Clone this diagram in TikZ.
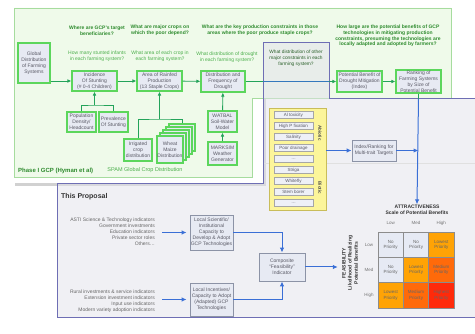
\documentclass[tikz,border=0pt]{standalone}
\usepackage{fontspec}
\setmainfont{Liberation Sans}
\usetikzlibrary{arrows.meta}
\definecolor{gpanel}{HTML}{EFFAEA}
\definecolor{gpanelb}{HTML}{A6DC9E}
\definecolor{gbord}{HTML}{5CD65C}
\definecolor{bfill}{HTML}{E7EAF3}
\definecolor{btext}{HTML}{5A5A66}
\definecolor{garrow}{HTML}{23A35A}
\definecolor{qdark}{HTML}{2E8B2E}
\definecolor{qlight}{HTML}{4CAF4C}
\definecolor{ppl}{HTML}{6E6EB4}
\definecolor{pfill}{HTML}{E2E2EA}
\definecolor{barrow}{HTML}{3A6FD6}
\definecolor{pbord}{HTML}{8C93A6}
\definecolor{yfill}{HTML}{FCF59A}
\definecolor{ybord}{HTML}{C9BD5A}
\definecolor{cnone}{HTML}{E6EAF4}
\definecolor{clow}{HTML}{FFA305}
\definecolor{cmed}{HTML}{FF6A0A}
\definecolor{chigh}{HTML}{FF2A0A}
\begin{document}
\begin{tikzpicture}[x=1pt,y=-1pt,
  gbox/.style={draw=gbord,line width=1.1pt,fill=bfill,text=btext,font=\fontsize{5}{6}\selectfont,align=center,inner sep=0pt},
  pbox/.style={draw=pbord,line width=0.8pt,fill=bfill,text=btext,font=\fontsize{5}{6}\selectfont,align=center,inner sep=0pt},
  yitem/.style={draw=black!35,line width=0.5pt,fill=bfill!70!white,text=btext,font=\fontsize{4.5}{5}\selectfont,minimum width=39pt,minimum height=7.5pt,inner sep=0pt},
  qhead/.style={font=\bfseries\fontsize{5}{5.8}\selectfont,text=qdark,align=center,inner sep=0pt},
  qsub/.style={font=\fontsize{5}{6.3}\selectfont,text=qlight,align=center,inner sep=0pt},
  gline/.style={draw=garrow,line width=0.9pt},
  garr/.style={draw=garrow,line width=0.9pt,-{Latex[length=4pt,width=3.6pt]}},
  bline/.style={draw=barrow,line width=1pt},
  barr/.style={draw=barrow,line width=1pt,-{Latex[length=5pt,width=4.5pt]}},
  cell/.style={draw=black!45,line width=0.6pt,minimum width=25.33pt,minimum height=25.33pt,inner sep=0pt,align=center,text=black!60,font=\fontsize{4.5}{5.2}\selectfont},
  ind/.style={font=\fontsize{5}{6}\selectfont,text=black!60,align=right,inner sep=0pt},
  lbl/.style={font=\fontsize{4.5}{5}\selectfont,text=black!55,inner sep=0pt},
  bold/.style={font=\bfseries\fontsize{5}{6.2}\selectfont,text=black!80,align=center,inner sep=0pt}
]
\useasboundingbox (0,0) rectangle (475,334);
% white frame behind phase I
\fill[black!18] (15,99) rectangle (266,186);
\fill[white] (12,96) rectangle (263,183);
% green panel
\fill[gpanel] (14,8) -- (451,8) -- (451,98) -- (252,98) -- (252,177) -- (14,177) -- cycle;
\draw[gpanelb,line width=0.7pt] (14,8) -- (451,8) -- (451,98) -- (252,98) -- (252,177) -- (14,177) -- cycle;
% proposal panel
\fill[pfill,fill opacity=0.5] (263,43) -- (329,43) -- (329,99) -- (480,99) -- (480,318) -- (57,318) -- (57,184) -- (263,184) -- cycle;
\draw[black!12,line width=0.5pt] (263,163) -- (480,163);
\draw[ppl,line width=1pt] (263,43) -- (329,43) -- (329,99) -- (480,99) -- (480,318) -- (57,318) -- (57,184) -- (263,184) -- cycle;

% ---------- Phase I ----------
\node[qhead] at (97,30.5) {Where are GCP’s target\\beneficiaries?};
\node[qhead] at (160,30.5) {What are major crops on\\which the poor depend?};
\node[qhead] at (260,30.5) {What are the key production constraints in those\\areas where the poor produce staple crops?};
\node[qhead] at (388,36) {How large are the potential benefits of GCP\\technologies in mitigating production\\constraints, presuming the technologies are\\locally adapted and adopted by farmers?};
\node[qsub] at (97,56.5) {How many stunted infants\\in each farming system?};
\node[qsub] at (160,56.5) {What area of each crop in\\each farming system?};
\node[qsub] at (227,57) {What distribution of drought\\in each farming system?};
\node[qsub,text=black!45!qlight,font=\fontsize{4.8}{6}\selectfont] at (296,58) {What distribution of other\\major constraints in each\\farming system?};

\node[gbox,minimum width=32pt,minimum height=40pt] (glob) at (34,63) {Global\\Distribution\\of Farming\\Systems};
\node[gbox,minimum width=45pt,minimum height=20pt] (inc) at (94.5,81) {Incidence\\Of Stunting\\(\# 0-4 Children)};
\node[gbox,minimum width=45pt,minimum height=20pt] (area) at (159.5,81) {Area of Rainfed\\Production\\(13 Staple Crops)};
\node[gbox,minimum width=44pt,minimum height=21pt] (drought) at (223,81.5) {Distribution and\\Frequency of\\Drought};
\node[gbox,minimum width=45pt,minimum height=21pt] (potben) at (359.5,81.5) {Potential Benefit of\\Drought Mitigation\\(Index)};
\node[gbox,minimum width=45pt,minimum height=23pt] (rank) at (418.5,81.5) {Ranking of\\Farming Systems\\by Size of\\Potential Benefit};
\node[gbox,minimum width=29pt,minimum height=20pt] (pop) at (81.5,122) {Population\\Density/\\Headcount};
\node[gbox,minimum width=29pt,minimum height=20pt] (prev) at (113.5,122) {Prevalence\\Of Stunting};
\node[gbox,minimum width=28pt,minimum height=22pt] (irr) at (138,150) {Irrigated\\crop\\distribution};
\foreach \k in {4,3,2,1}
  \node[gbox,minimum width=26pt,minimum height=27pt] (wheat\k) at (170+3*\k,149.5-3*\k) {};
\node[gbox,minimum width=26pt,minimum height=27pt] (wheat) at (170,149.5) {Wheat\\Maize\\Distribution};
\node[gbox,minimum width=29pt,minimum height=21pt] (watbal) at (222.5,121.5) {WATBAL\\Soil-Water\\Model};
\node[gbox,minimum width=29pt,minimum height=23pt] (marksim) at (222.5,153.5) {MARKSIM\\Weather\\Generator};
\node[font=\fontsize{5.5}{6}\selectfont,text=qlight,inner sep=0pt] (spam) at (145,170) {SPAM Global Crop Distribution};
\node[font=\bfseries\fontsize{6}{7}\selectfont,text=qdark,anchor=west,inner sep=0pt] (phase) at (18,171) {Phase I GCP (Hyman et al)};

\draw[garr] (glob.east |- inc.west) -- (inc.west);
\draw[garr] (inc) -- (area);
\draw[garr] (area) -- (drought);
\coordinate (t1) at (263,81.5);
\coordinate (t2) at (329,81.5);
\draw[garr] (drought) -- (potben);
\draw[draw=barrow!80!garrow,line width=0.9pt] (t1) -- (t2);
\draw[garr] (potben) -- (rank);
\coordinate (ij) at (94.5,105);
\draw[gline] (pop.north) |- (ij) -| (prev.north);
\draw[garr] (ij) -- (inc.south);
\coordinate (aj) at (159.5,119);
\draw[gline] (irr.north) |- (aj) -| (wheat4.north);
\draw[garr] (aj) -- (area.south);
\draw[garr] (watbal) -- (drought);
\draw[garr] (marksim) -- (watbal);

% ---------- constraints ----------
\node[draw=ybord,line width=0.8pt,fill=yfill,minimum width=57pt,minimum height=102pt,inner sep=0pt] (yel) at (297.5,159) {};
\foreach \t/\yy [count=\i] in {Al toxicity/115,High P fixation/126,Salinity/137,Poor drainage/148,\dots/159,Striga/170,Whitefly/181,Stem borer/192,\dots/203}
  \node[yitem] (it\i) at (293.5,\yy) {\t};
\node[rotate=-90,font=\bfseries\fontsize{4.5}{5}\selectfont,text=black!70,inner sep=0pt] (abio) at (320,133) {Abiotic};
\node[rotate=-90,font=\bfseries\fontsize{4.5}{5}\selectfont,text=black!70,inner sep=0pt] (bio) at (320,188) {Biotic};
\node[pbox,minimum width=44pt,minimum height=21pt] (idx) at (374,150.5) {Index/Ranking for\\Multi-trait Targets};
\draw[barr] (yel.east |- idx.west) -- (idx.west);

% ---------- attractiveness matrix ----------
\node[bold] (attr) at (417,209.5) {ATTRACTIVENESS\\Scale of Potential Benefits};
\coordinate (r99) at (418.5,99);
\coordinate (jn) at (418.5,150.5);
\draw[gline] (rank.south) -- (r99);
\draw[barr] (r99) -- (attr.north);
\draw[barr] (idx.east) -- (jn);
\node[lbl] (cl1) at (390.67,223) {Low};
\node[lbl] (cl2) at (416,223) {Med};
\node[lbl] (cl3) at (441.33,223) {High};
\node[lbl] (rl1) at (369,244.67) {Low};
\node[lbl] (rl2) at (369,270) {Med};
\node[lbl] (rl3) at (369,295.33) {High};
\node[cell,fill=cnone] (g11) at (390.67,244.67) {No\\Priority};
\node[cell,fill=cnone] (g12) at (416,244.67) {No\\Priority};
\node[cell,fill=clow] (g13) at (441.33,244.67) {Lowest\\Priority};
\node[cell,fill=cnone] (g21) at (390.67,270) {No\\Priority};
\node[cell,fill=clow] (g22) at (416,270) {Lowest\\Priority};
\node[cell,fill=cmed] (g23) at (441.33,270) {Medium\\Priority};
\node[cell,fill=clow] (g31) at (390.67,295.33) {Lowest\\Priority};
\node[cell,fill=cmed] (g32) at (416,295.33) {Medium\\Priority};
\node[cell,fill=chigh] (g33) at (441.33,295.33) {Highest\\Priority};
\node[bold,rotate=90] (feas) at (350,263) {FEASIBILITY\\Likelihood of Realizing\\Potential Benefits};

% ---------- This Proposal ----------
\node[font=\bfseries\fontsize{7}{8}\selectfont,text=black!80,anchor=west,inner sep=0pt] (tp) at (61,197) {This Proposal};
\node[ind,anchor=east] (ind1) at (155,232) {ASTI Science \& Technology indicators\\Government investments\\Education indicators\\Private sector roles\\Others…};
\node[ind,anchor=east] (ind2) at (155,301) {Rural investments \& service indicators\\Extension investment indicators\\Input use indicators\\Modern variety adoption indicators};
\node[pbox,minimum width=43pt,minimum height=35pt] (cap) at (211.5,232.5) {Local Scientific/\\Institutional\\Capacity to\\Develop \& Adopt\\GCP Technologies};
\node[pbox,minimum width=43pt,minimum height=33pt] (inc2) at (211.5,299.5) {Local Incentives/\\Capacity to Adopt\\(Adapted) GCP\\Technologies};
\node[pbox,minimum width=46pt,minimum height=28pt] (comp) at (282,267) {Composite\\“Feasibility”\\Indicator};
\draw[barr,shorten <=7pt,shorten >=3pt] (ind1.east |- cap.west) -- (cap.west);
\draw[barr,shorten <=7pt,shorten >=3pt] (ind2.east |- inc2.west) -- (inc2.west);
\draw[barr] (cap.east) -| (comp.north);
\draw[barr] (inc2.east) -| (comp.south);
\draw[barr,shorten >=4pt] (comp.east) -- (comp.east -| feas.north);
\end{tikzpicture}
\end{document}
